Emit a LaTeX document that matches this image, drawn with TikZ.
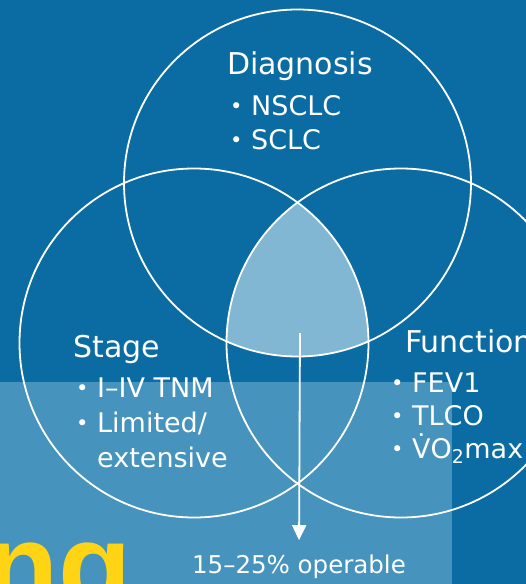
\documentclass[tikz,border=0pt]{standalone}
\usepackage{fontspec}
\setmainfont{DejaVu Sans}
\newfontfamily\titlefont{Liberation Sans}
\usetikzlibrary{arrows.meta}
\definecolor{bgblue}{RGB}{10,108,163}
\definecolor{paleblue}{RGB}{70,148,190}
\definecolor{lensblue}{RGB}{130,183,212}
\definecolor{titleyellow}{RGB}{255,212,20}
\begin{document}
\begin{tikzpicture}[x=1pt, y=-1pt,
  ring/.style={draw=white, line width=1.8pt},
  head/.style={anchor=base west, inner sep=0, text=white, font=\fontsize{30}{30}\selectfont},
  item/.style={anchor=base west, inner sep=0, text=white, font=\fontsize{27}{27}\selectfont}]
\def\blt{\makebox[17pt][l]{\hspace{-4pt}\raisebox{2pt}{\fontsize{21}{21}\selectfont\textbullet}}}
\useasboundingbox (0,0) rectangle (526,584);
\clip (0,0) rectangle (526,584);
\fill[bgblue] (0,0) rectangle (526,584);
\fill[paleblue] (0,382) rectangle (452,584);

\coordinate (dia) at (297.5,183);
\coordinate (stg) at (194,343);
\coordinate (fun) at (401,343);

% common part of the three sets
\begin{scope}
\clip (stg) circle (174.5pt);
\clip (fun) circle (174.5pt);
\fill[lensblue] (dia) circle (173.5pt);
\end{scope}

\draw[ring] (dia) circle (173.5pt);
\draw[ring] (stg) circle (174.5pt);
\draw[ring] (fun) circle (174.5pt);

\node[head, anchor=base] (diagnosis) at (300,74) {Diagnosis};
\node[item] (nsclc) at (234,115) {\blt NSCLC};
\node[item] (sclc) at (234,149) {\blt SCLC};

\node[head] (stage) at (73,357) {Stage};
\node[item] (tnm) at (80,397) {\blt I–IV TNM};
\node[item] (limited) at (80,432) {\blt Limited/};
\node[item] (extensive) at (97,467) {extensive};

\node[head] (function) at (405,352) {Function};
\node[item] (fev) at (395,392) {\blt FEV1};
\node[item] (tlco) at (395,425) {\blt TLCO};
\node[item] (vo) at (395,458) {\blt \.{V}O\textsubscript{2}max};

\coordinate (lens) at (300,333);
\node[anchor=base, inner sep=0, text=white, font=\fontsize{24.5}{24.5}\selectfont] (operable) at (299,573) {15–25\% operable};
\draw[white, line width=1.8pt, shorten >=14pt, -{Triangle[width=14pt,length=15pt]}] (lens) -- (operable.north);

\node[anchor=base east, inner sep=0, text=titleyellow, font=\fontsize{120}{120}\selectfont\titlefont\bfseries] (title) at (132,607) {ng};
\end{tikzpicture}
\end{document}
